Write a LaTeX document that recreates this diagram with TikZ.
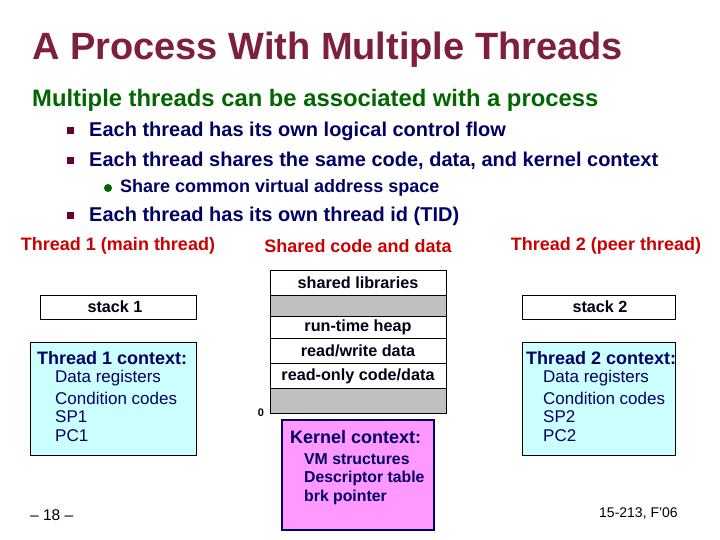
\documentclass[tikz,border=0pt]{standalone}
\usepackage{fontspec}
\setmainfont{Liberation Sans}
\definecolor{ttl}{HTML}{7F1F3F}
\definecolor{sub}{HTML}{006600}
\definecolor{navy}{HTML}{000066}
\definecolor{thr}{HTML}{CC0000}
\definecolor{bul}{HTML}{660033}
\definecolor{pinkk}{HTML}{FF99FF}
\definecolor{cyanl}{HTML}{CCFFFF}
\definecolor{grayb}{HTML}{C0C0C0}
\begin{document}
\begin{tikzpicture}[x=1pt,y=-1pt,
  txt/.style={inner sep=0pt,anchor=west,font=\bfseries\fontsize{#1}{#1}\selectfont,text=navy},
  reg/.style={inner sep=0pt,anchor=west,font=\fontsize{#1}{#1}\selectfont,text=navy},
  seg/.style={draw=black,line width=0.8pt},
  lbl/.style={inner sep=0pt,font=\bfseries\fontsize{18}{18}\selectfont,text=thr}]
\useasboundingbox (0,0) rectangle (720,540);
\fill[white] (0,0) rectangle (720,540);
\node[txt=38,text=ttl] (title) at (32,50) {A Process With Multiple Threads};
\node[txt=23.8,text=sub] (subt) at (32,100) {Multiple threads can be associated with a process};
\foreach \y/\t [count=\i] in {131/{Each thread has its own logical control flow},161/{Each thread shares the same code, data, and kernel context},216/{Each thread has its own thread id (TID)}}{
  \fill[bul] (67,\y-3.5) rectangle ++(7,7);
  \node[txt=20] (b\i) at (89,\y) {\t};
}
\fill[sub] (108,188) circle (4);
\node[txt=18] (sb) at (120,188) {Share common virtual address space};
\node[lbl] (t1) at (118,246) {Thread 1 (main thread)};
\node[lbl] (sc) at (358,246) {Shared code and data};
\node[lbl] (t2) at (606,246) {Thread 2 (peer thread)};
% middle column
\draw[seg,fill=white] (270,270) rectangle (446,295);
\draw[seg,fill=grayb] (270,295) rectangle (446,316);
\draw[seg,fill=white] (270,316) rectangle (446,338);
\draw[seg,fill=white] (270,338) rectangle (446,363);
\draw[seg,fill=white] (270,363) rectangle (446,388);
\draw[seg,fill=grayb] (270,388) rectangle (446,413);
\foreach \y/\t [count=\i] in {283/{shared libraries},327/{run-time heap},351/{read/write data},376/{read-only code/data}}
  \node[txt=16.2,anchor=center,text=black!80!navy] (m\i) at (358,\y) {\t};
\node[txt=11,anchor=center,text=black] (zero) at (261,413) {0};
% kernel
\draw[draw=navy,line width=2.5pt,fill=pinkk] (282,420) rectangle (434,530);
\node[txt=18] (kc) at (290,437) {Kernel context:};
\foreach \y/\t [count=\i] in {459/{VM structures},478/{Descriptor table},497/{brk pointer}}
  \node[txt=15.8] (k\i) at (304,\y) {\t};
% stacks
\draw[seg,fill=white] (40,295) rectangle (196,319);
\node[txt=16.2,anchor=center,text=black!80!navy] (s1) at (115,307) {stack 1};
\draw[seg,fill=white] (522,295) rectangle (675,319);
\node[txt=16.2,anchor=center,text=black!80!navy] (s2) at (600,307) {stack 2};
% contexts
\draw[seg,fill=cyanl] (30,342) rectangle (196,455);
\node[txt=18] (c1) at (37,358) {Thread 1 context:};
\foreach \y/\t [count=\i] in {378/{Data registers},398/{Condition codes},417/SP1,436/PC1}
  \node[reg=17] (ca\i) at (55,\y) {\t};
\draw[seg,fill=cyanl] (522,342) rectangle (675,455);
\node[txt=18] (c2) at (526,358) {Thread 2 context:};
\foreach \y/\t [count=\i] in {378/{Data registers},398/{Condition codes},417/SP2,436/PC2}
  \node[reg=17] (cb\i) at (543,\y) {\t};
\node[reg=15.5,text=black] (pg) at (30,515) {– 18 –};
\node[reg=14,text=black,anchor=east] (crs) at (678,514) {15-213, F’06};
\end{tikzpicture}
\end{document}
